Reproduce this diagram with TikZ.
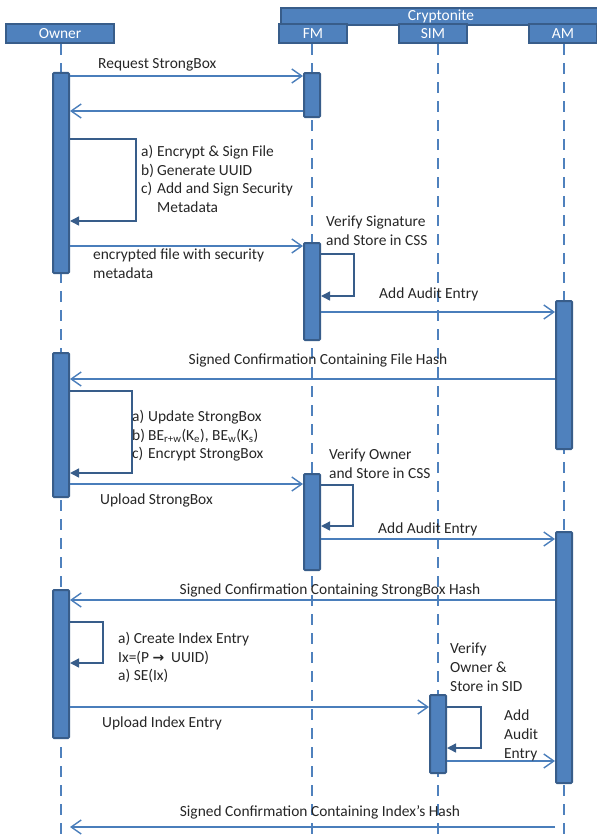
\documentclass[tikz,border=0pt]{standalone}
\usepackage{fontspec}
\setmainfont{Carlito}
\newfontfamily\arrowfont{DejaVu Sans}
\usetikzlibrary{arrows.meta}
\definecolor{boxfill}{HTML}{4F81BD}
\definecolor{boxedge}{HTML}{385D8A}
\definecolor{msgline}{HTML}{4A7EBB}
\tikzset{
  hdr/.style={draw=boxedge, fill=boxfill, line width=2bp, text=white, inner sep=0pt, font=\fontsize{15.5}{18}\selectfont},
  lifeline/.style={draw=boxfill, line width=2.8bp, dash pattern=on 11bp off 8bp},
  actbar/.style={draw=boxedge, fill=boxfill, line width=2bp, minimum width=16bp, inner sep=0pt, rounded corners=1bp},
  msg/.style={draw=msgline, line width=1.4bp, -{Straight Barb[length=10bp,width=14bp,line width=1.4bp]}},
  selfmsg/.style={draw=boxedge, line width=1.4bp, -{Triangle[length=9bp,width=9bp]}},
  lbl/.style={inner sep=0pt, font=\fontsize{15.5}{18.7}\selectfont, text=black!85},
  mlbl/.style={lbl, align=left, anchor=north west},
}
\newcommand{\itm}[1]{\makebox[16bp][l]{#1}}
\begin{document}
\begin{tikzpicture}[x=1bp, y=-1bp]
\useasboundingbox (0,0) rectangle (597,838);

% headers
\node[hdr, minimum width=320bp, minimum height=17bp, anchor=north west] (crypt) at (280,7) {Cryptonite};
\node[hdr, minimum width=108bp, minimum height=19bp] (owner) at (60,33.5) {Owner};
\node[hdr, minimum width=68bp, minimum height=19bp] (fm) at (313,33.5) {FM};
\node[hdr, minimum width=68bp, minimum height=19bp] (sim) at (433,33.5) {SIM};
\node[hdr, minimum width=68bp, minimum height=19bp] (am) at (563,33.5) {AM};

% lifelines
\coordinate (ownerEnd) at (61,838);
\coordinate (fmEnd) at (312,838);
\coordinate (simEnd) at (438,838);
\coordinate (amEnd) at (564,838);
\draw[lifeline] (owner.south -| ownerEnd) -- (ownerEnd);
\draw[lifeline] (fm.south -| fmEnd) -- (fmEnd);
\draw[lifeline] (sim.south -| simEnd) -- (simEnd);
\draw[lifeline] (am.south -| amEnd) -- (amEnd);

% activation bars
\node[actbar, minimum height=200bp] (ob1) at (61,173) {};
\node[actbar, minimum height=44bp]  (fb1) at (312,95) {};
\node[actbar, minimum height=97bp]  (fb2) at (312,291.5) {};
\node[actbar, minimum height=148bp] (ab1) at (564,375) {};
\node[actbar, minimum height=144bp] (ob2) at (61,425) {};
\node[actbar, minimum height=96bp]  (fb3) at (312,522) {};
\node[actbar, minimum height=251bp] (ab2) at (564,657.5) {};
\node[actbar, minimum height=148bp] (ob3) at (61,664) {};
\node[actbar, minimum height=78bp]  (sb)  at (438,734) {};

% messages
\draw[msg] (ob1.east |- 0,76) -- (fb1.west |- 0,76);
\node[lbl, anchor=west] (m1) at (98,65) {Request StrongBox};
\draw[msg] (fb1.west |- 0,111) -- (ob1.east |- 0,111);

\draw[selfmsg] (ob1.east |- 0,139) -| (136,221) -- (ob1.east |- 0,221);
\node[mlbl] (l1) at (141,145) {\itm{a)}Encrypt \& Sign File\\\itm{b)}Generate UUID\\\itm{c)}Add and Sign Security\\\itm{}Metadata};

\draw[msg] (ob1.east |- 0,246) -- (fb2.west |- 0,246);
\node[mlbl] (m3) at (93,249) {encrypted file with security\\metadata};

\draw[selfmsg] (fb2.east |- 0,254) -| (354,296) -- (fb2.east |- 0,296);
\node[mlbl] (l2) at (326,216) {Verify Signature\\and Store in CSS};

\draw[msg] (fb2.east |- 0,312) -- (ab1.west |- 0,312);
\node[lbl, anchor=west] (m4) at (379,294) {Add Audit Entry};

\draw[msg] (ab1.west |- 0,379) -- (ob2.east |- 0,379);
\node[lbl] (m5) at (318,360) {Signed Confirmation Containing File Hash};

\draw[selfmsg] (ob2.east |- 0,391) -| (132,473) -- (ob2.east |- 0,473);
\node[mlbl] (l3) at (132,410) {\itm{a)}Update StrongBox\\\itm{b)}BE\textsubscript{r+w}(K\textsubscript{e}), BE\textsubscript{w}(K\textsubscript{s})\\\itm{c)}Encrypt StrongBox};

\draw[msg] (ob2.east |- 0,484) -- (fb3.west |- 0,484);
\node[lbl, anchor=west] (m6) at (100,500) {Upload StrongBox};

\draw[selfmsg] (fb3.east |- 0,485) -| (353,526) -- (fb3.east |- 0,526);
\node[mlbl] (l4) at (329,449) {Verify Owner\\and Store in CSS};

\draw[msg] (fb3.east |- 0,539) -- (ab2.west |- 0,539);
\node[lbl, anchor=west] (m7) at (378,529) {Add Audit Entry};

\draw[msg] (ab2.west |- 0,600) -- (ob3.east |- 0,600);
\node[lbl] (m8) at (330,590) {Signed Confirmation Containing StrongBox Hash};

\draw[selfmsg] (ob3.east |- 0,622) -| (103,663) -- (ob3.east |- 0,663);
\node[mlbl] (l5) at (118,632) {a) Create Index Entry\\Ix=(P {\arrowfont\bfseries\fontsize{14}{15}\selectfont→}\;\,UUID)\\a) SE(Ix)};

\draw[msg] (ob3.east |- 0,707) -- (sb.west |- 0,707);
\node[lbl, anchor=west] (m9) at (102,723) {Upload Index Entry};

\draw[selfmsg] (sb.east |- 0,707) -| (481,748) -- (sb.east |- 0,748);
\node[mlbl] (l6) at (450,643) {Verify\\Owner \&\\Store in SID};

\draw[msg] (sb.east |- 0,761) -- (ab2.west |- 0,761);
\node[mlbl] (m10) at (504,710) {Add\\Audit\\Entry};

\draw[msg] (ab2.west |- 0,827) -- (ob3.east |- 0,827);
\node[lbl] (m11) at (320,812) {Signed Confirmation Containing Index’s Hash};
\end{tikzpicture}
\end{document}
